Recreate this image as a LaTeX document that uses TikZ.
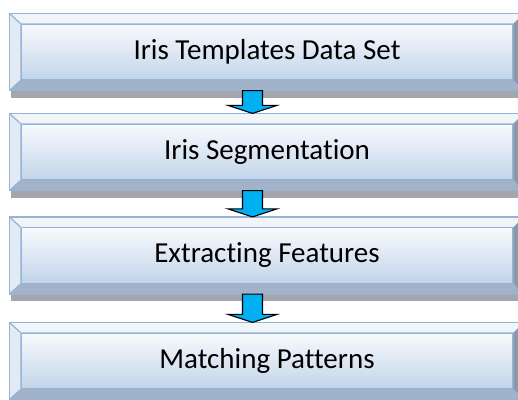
\documentclass[tikz,border=0pt]{standalone}
\usepackage{fontspec}
\setmainfont{Carlito}[RawFeature=-liga]
\usetikzlibrary{calc}
\definecolor{edgeblue}{HTML}{95B3D7}
\definecolor{facetop}{HTML}{F8FAFD}
\definecolor{facebot}{HTML}{C2D4EA}
\definecolor{topbev}{HTML}{F1F5FA}
\definecolor{leftbev}{HTML}{E2EAF4}
\definecolor{botbev}{HTML}{A2B3C9}
\definecolor{rightbev}{HTML}{8E99A8}
\definecolor{shadowgray}{HTML}{A3A7AD}
\definecolor{arrowblue}{HTML}{00B0F0}
\tikzset{
  face/.style={minimum width=492pt, minimum height=56pt, inner sep=0pt,
    top color=facetop, bottom color=facebot, draw=edgeblue, line width=1.2pt,
    font=\fontsize{29}{34}\selectfont, text=black},
  bevel/.style={draw=edgeblue, line width=1.2pt, line join=miter},
  blockarrow/.style={draw=black, fill=arrowblue, line width=1.1pt, line join=miter}
}
\newcommand\bevelframe[1]{%
  \fill[shadowgray] ($(#1.south west)+(-9pt,-10pt)$) rectangle ($(#1.south east)+(12pt,-17pt)$);
  \fill[topbev] ($(#1.north west)+(-11pt,10pt)$) -- ($(#1.north east)+(10pt,10pt)$) -- (#1.north east) -- (#1.north west) -- cycle;
  \fill[leftbev] ($(#1.north west)+(-11pt,10pt)$) -- (#1.north west) -- (#1.south west) -- ($(#1.south west)+(-11pt,-10pt)$) -- cycle;
  \fill[botbev] ($(#1.south west)+(-11pt,-10pt)$) -- (#1.south west) -- (#1.south east) -- ($(#1.south east)+(10pt,-10pt)$) -- cycle;
  \fill[rightbev] ($(#1.north east)+(10pt,10pt)$) -- (#1.north east) -- (#1.south east) -- ($(#1.south east)+(10pt,-10pt)$) -- cycle;
  \draw[bevel] ($(#1.north west)+(-11pt,10pt)$) rectangle ($(#1.south east)+(10pt,-10pt)$);
  \draw[bevel] ($(#1.north west)+(-11pt,10pt)$) -- (#1.north west);
  \draw[bevel] ($(#1.south west)+(-11pt,-10pt)$) -- (#1.south west);
}
\newcommand\blockarrowbetween[2]{%
  \path let \p1=($(#1.south)+(-14.5pt,-10pt)$), \p2=($(#2.north)+(-14.5pt,10pt)$) in
    [blockarrow] (\x1-10pt,\y1) -- (\x1-10pt,\y2+8pt) -- (\x1-24.5pt,\y2+8pt) -- (\x2,\y2)
    -- (\x1+24.5pt,\y2+8pt) -- (\x1+10pt,\y2+8pt) -- (\x1+10pt,\y1) -- cycle;
}
\begin{document}
\begin{tikzpicture}[x=1pt,y=1pt]
\useasboundingbox (0,0) rectangle (518,-399);
\clip (0,0) rectangle (518,-399);
\fill[white] (0,0) rectangle (518,-399);
\node[face] (b1) at (267,-52) {Iris Templates Data Set};
\node[face] (b2) at (267,-152) {Iris Segmentation};
\node[face] (b3) at (267,-255.5) {Extracting Features};
\node[face] (b4) at (267,-361) {Matching Patterns};
\bevelframe{b1}
\bevelframe{b2}
\bevelframe{b3}
\bevelframe{b4}
\blockarrowbetween{b1}{b2}
\blockarrowbetween{b2}{b3}
\blockarrowbetween{b3}{b4}
\end{tikzpicture}
\end{document}
